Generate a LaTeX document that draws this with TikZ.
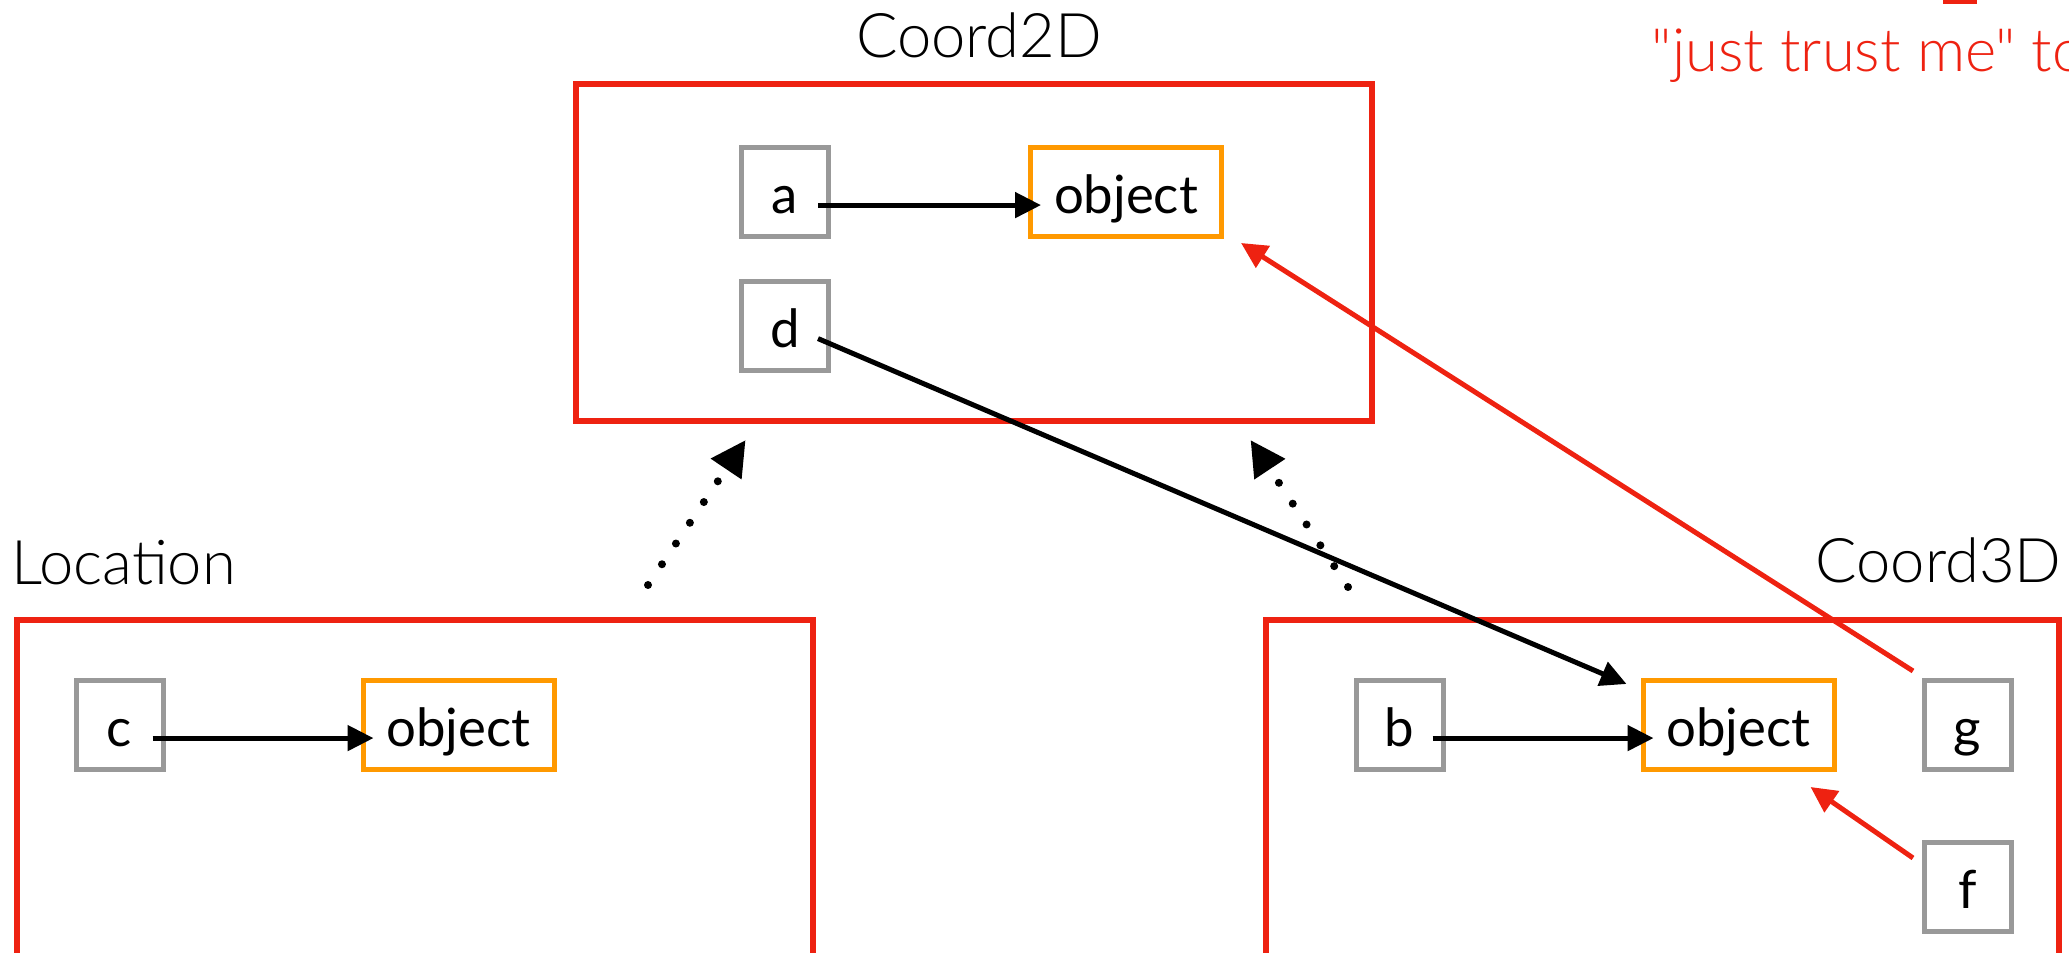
\documentclass[tikz,border=0pt]{standalone}
\usepackage{fontspec}
\setmainfont{Lato}
\newfontfamily\lightfont{Lato Light}
\usetikzlibrary{positioning,calc,arrows.meta}
\definecolor{boxred}{RGB}{238,34,17}
\definecolor{objorange}{RGB}{255,153,0}
\definecolor{refgray}{RGB}{153,153,153}
\tikzset{
  frame/.style={draw=boxred,line width=0.6mm,minimum width=79.6mm,minimum height=33.7mm},
  var/.style={draw=refgray,line width=0.5mm,minimum width=8.7mm,minimum height=8.9mm,inner sep=0pt,
    text height=4.3mm,text depth=0pt,font=\fontsize{15}{18}\selectfont},
  obj/.style={var,draw=objorange,minimum width=19.1mm},
  title/.style={inner sep=0pt,font=\lightfont\fontsize{17.5}{21}\selectfont},
  ref/.style={line width=0.5mm,-{Triangle[length=2.6mm,width=2.5mm]}},
  ext/.style={line width=0.8mm,line cap=round,dash pattern=on 0pt off 2.5mm,
    -{Triangle[length=3.5mm,width=3.5mm]}},
}
\begin{document}
\begin{tikzpicture}[x=0.1mm,y=-0.1mm]
\useasboundingbox (0,0) rectangle (2069,953);
% class frames and their names
\node[frame] (coordtwo) at (974,252.5) {};
\node[frame,minimum height=50mm] (location) at (414.5,870.5) {};
\node[frame,minimum width=79.35mm,minimum height=50mm] (coordthree) at (1662.3,870.5) {};
\node[title,anchor=base] (coordtwoname) at ($(coordtwo.north)+(5,-23)$) {Coord2D};
\node[title,anchor=base west] (locationname) at ($(location.north west)+(-3,-33)$) {Location};
\node[title,anchor=base east] (coordthreename) at ($(coordthree.north east)+(0,-35)$) {Coord3D};
% top right remark
\node[title,text=boxred,anchor=base west,font=\lightfont\fontsize{17}{20}\selectfont] (trust) at (1651,72) {"just trust me" to};
\fill[boxred] (1943,0) rectangle (1977,4);
% variables and the objects they point to
\node[var] (a) at (785,192.5) {a};
\node[obj,right=19.7mm of a] (objtwo) {object};
\node[var,below=3.95mm of a] (d) {d};
\node[var] (c) at (119.5,725.5) {c};
\node[obj,right=19.5mm of c] (objloc) {object};
\node[var] (b) at (1399.5,725.5) {b};
\node[obj,right=19.5mm of b] (objthree) {object};
\node[var,right=8.5mm of objthree] (g) {g};
\node[var,below=6.8mm of g] (f) {f};
% references
\draw[ref] ($(a.mid east)+(-13,0)$) -- ($(objtwo.mid west)+(13,0)$);
\draw[ref] ($(c.mid east)+(-13,0)$) -- ($(objloc.mid west)+(13,0)$);
\draw[ref] ($(b.mid east)+(-13,0)$) -- ($(objthree.mid west)+(13,0)$);
\draw[ref] ($(d.mid east)+(-13,0)$) -- ($(objthree.north west)+(-14,5.5)$);
\draw[ref,boxred] ($(g.north west)+(-8.5,-7.5)$) -- ($(objtwo.south east)+(17,3.5)$);
\draw[ref,boxred] ($(f.north west)+(-8.5,17.5)$) -- ($(objthree.south east)+(-26,14.5)$);
% extends
\coordinate (locup) at (648,585);
\coordinate (twoleft) at (745.6,440);
\coordinate (threeup) at (1348,587);
\coordinate (tworight) at (1250.5,440);
\draw[ext] (locup) -- (twoleft);
\draw[ext] (threeup) -- (tworight);
\end{tikzpicture}
\end{document}
